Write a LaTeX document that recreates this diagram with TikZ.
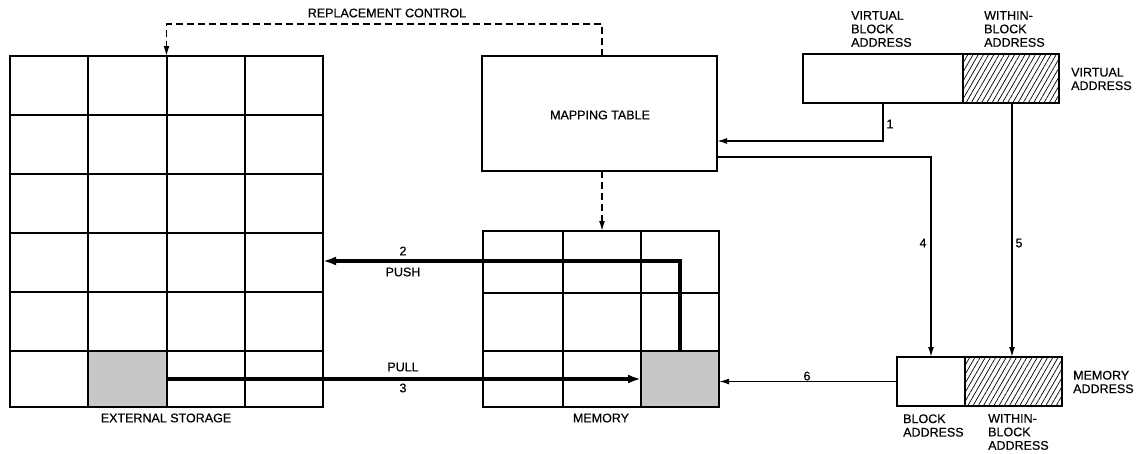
\documentclass[tikz,border=0pt]{standalone}
\usepackage{fontspec}
\setmainfont{Liberation Sans}[FakeBold=0.4]
\usetikzlibrary{arrows.meta,patterns.meta,calc}
\begin{document}
\begin{tikzpicture}[x=1pt,y=-1pt,
  lbl/.style={inner sep=0pt,font=\fontsize{12.5}{13.5}\selectfont},
  mlbl/.style={lbl,align=left,anchor=west},
  box/.style={draw,line width=2pt,inner sep=0pt,outer sep=0pt,anchor=north west},
  gridln/.style={line width=1.2pt},
  stip/.style={box,fill=black!22},
  hatch/.style={box,pattern={Lines[angle=60,distance=4.5pt,line width=0.7pt]}},
  bigarrow/.style={line width=3.6pt,-{Latex[length=13pt,width=9pt]}},
  thinarrow/.style={line width=1.5pt,-{Latex[length=10pt,width=6pt]}},
  dasharrow/.style={line width=1.5pt,dash pattern=on 7pt off 4pt,-{Latex[length=10pt,width=6pt]}}]
\useasboundingbox (0,0) rectangle (1137,453);

% external storage
\node[box,minimum width=313pt,minimum height=351pt] (ext) at (10,56) {};
\foreach \xx in {88,167,245} \draw[gridln] (\xx,56) -- (\xx,407);
\foreach \yy in {115,174,233,292,351} \draw[gridln] (10,\yy) -- (323,\yy);
\node[stip,line width=1.2pt,minimum width=79pt,minimum height=56pt] (extcell) at (88,351) {};
\draw[line width=2pt] (ext.north west) rectangle (ext.south east);
\node[lbl] (extlbl) at (166,418) {EXTERNAL STORAGE};

% mapping table
\node[box,minimum width=235pt,minimum height=115pt] (map) at (482,56) {};
\node[lbl] (maplbl) at (600,115) {MAPPING TABLE};

% memory
\node[box,minimum width=236pt,minimum height=176pt] (mem) at (483,231) {};
\foreach \xx in {563,641} \draw[gridln] (\xx,231) -- (\xx,407);
\foreach \yy in {293,351} \draw[gridln] (483,\yy) -- (719,\yy);
\node[stip,line width=1.2pt,minimum width=78pt,minimum height=56pt] (memcell) at (641,351) {};
\draw[line width=2pt] (mem.north west) rectangle (mem.south east);
\node[lbl] (memlbl) at (601,418) {MEMORY};

% virtual address
\node[box,minimum width=160pt,minimum height=49pt] (vba) at (803,54) {};
\node[hatch,minimum width=96pt,minimum height=49pt] (vwa) at (963,54) {};
\node[mlbl] (vbalbl) at (851,29) {VIRTUAL\\BLOCK\\ADDRESS};
\node[mlbl] (vwalbl) at (984,29) {WITHIN-\\BLOCK\\ADDRESS};
\node[mlbl] (valbl) at (1071,79) {VIRTUAL\\ADDRESS};

% memory address
\node[box,minimum width=68pt,minimum height=49pt] (mba) at (897,357) {};
\node[hatch,minimum width=97pt,minimum height=49pt] (mwa) at (965,357) {};
\node[mlbl] (mbalbl) at (903,425.5) {BLOCK\\ADDRESS};
\node[mlbl] (mwalbl) at (988,432) {WITHIN-\\BLOCK\\ADDRESS};
\node[mlbl] (malbl) at (1073,382) {MEMORY\\ADDRESS};

% helper levels
\coordinate (pushy) at (0,261);
\coordinate (l1y) at (0,141);
\coordinate (l4y) at (0,157);

% replacement control
\draw[dasharrow] (map.north -| 602,0) -- (602,24) -| (ext.north);
\node[lbl] (rclbl) at (387,13) {REPLACEMENT CONTROL};
\draw[dasharrow] (map.south -| 602,0) -- (mem.north -| 602,0);

% push / pull
\draw[bigarrow] (memcell.north) |- (ext.east |- pushy);
\node[lbl] (n2) at (403,251) {2};
\node[lbl] (push) at (403,272) {PUSH};
\draw[bigarrow] (extcell.east) -- (memcell.west);
\node[lbl] (pull) at (403,367) {PULL};
\node[lbl] (n3) at (403,388) {3};

% address connectors
\draw[thinarrow] (vba.south) |- (map.east |- l1y);
\node[lbl] (n1) at (890,124) {1};
\draw[thinarrow] (map.east |- l4y) -| (mba.north);
\node[lbl] (n4) at (923,243) {4};
\draw[thinarrow] (vwa.south -| 1012,0) -- (mwa.north -| 1012,0);
\node[lbl] (n5) at (1019,243) {5};
\draw[thinarrow] (mba.west) -- (mba.west -| memcell.east);
\node[lbl] (n6) at (807,376) {6};
\end{tikzpicture}
\end{document}
